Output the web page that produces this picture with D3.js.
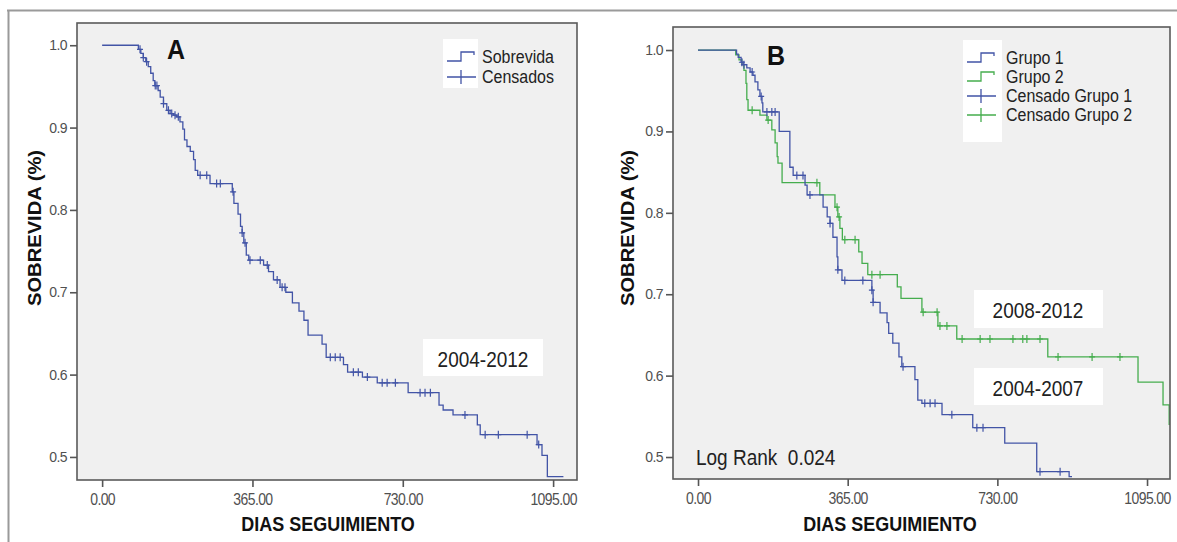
<!DOCTYPE html>
<head>
  <meta charset="utf-8">
  <title>Sobrevida</title>
  <script src="https://d3js.org/d3.v7.min.js"></script>
  <style>
    body { margin: 0; background: #fff; }
    svg { display: block; font-family: "Liberation Sans", Arial, sans-serif; }
    .plot-bg { fill: #f0f0f0; }
    .plot-frame { fill: none; stroke: #5a5a5a; stroke-width: 1.6px; }
    .tick line { stroke: #555; stroke-width: 1.6px; }
    .tick text { fill: #505050; font-size: 14px; letter-spacing: -0.6px; }
    .axis-title { font-weight: bold; font-size: 18px; fill: #111; }
    .panel-tag { font-weight: bold; font-size: 25px; fill: #111; }
    .legend-text { font-size: 16px; fill: #222; }
    .note { font-size: 19px; fill: #222; white-space: pre; }
    .curve { fill: none; stroke-width: 1.3px; }
    .censor { fill: none; stroke-width: 1.2px; }
  </style>
</head>

<body>
  <script>
    var width = 1177, height = 542;

    // axis values
    var dayTicks = [0, 365, 730, 1095];
    var survTicks = [0.5, 0.6, 0.7, 0.8, 0.9, 1.0];

    // Panel A: whole cohort 2004-2012  [days, survival]
    var stepsA = [[0,1.0],[88,.995],[94,.99],[100,.985],[106,.98],[112,.974],[118,.966],[124,.957],[128,.951],
      [136,.945],[141,.937],[149,.929],[157,.921],[165,.917],[173,.915],[181,.913],[189,.907],[196,.898],
      [200,.885],[206,.877],[214,.871],[222,.861],[226,.848],[232,.842],[262,.832],[316,.822],[320,.808],
      [330,.795],[336,.78],[340,.772],[344,.76],[350,.745],[356,.739],[392,.733],[404,.725],[416,.715],
      [432,.706],[446,.7],[462,.687],[478,.677],[490,.666],[500,.648],[534,.637],[544,.621],[586,.612],
      [596,.603],[632,.597],[668,.59],[743,.578],[818,.563],[828,.557],[852,.551],[911,.539],[918,.527],
      [1056,.515],[1068,.502],[1081,.476],[1120,.476]];
    var censorA = [[92,.995],[100,.985],[108,.98],[129,.951],[133,.951],[149,.929],[161,.921],[169,.917],
      [177,.915],[185,.913],[238,.842],[254,.842],[278,.832],[287,.832],[318,.822],[340,.772],[347,.76],
      [359,.739],[384,.739],[401,.733],[425,.715],[437,.706],[444,.706],[554,.621],[566,.621],[578,.621],
      [610,.603],[622,.603],[644,.597],[680,.59],[692,.59],[712,.59],[772,.578],[784,.578],[797,.578],
      [881,.551],[930,.527],[962,.527],[1032,.527],[1060,.515]];

    // Panel B: Grupo 1 (2004-2007) and Grupo 2 (2008-2012)
    var stepsG1 = [[0,1.0],[94,.995],[98,.991],[105,.985],[110,.982],[119,.978],[127,.973],[134,.969],
      [139,.961],[146,.951],[151,.943],[156,.935],[158,.924],[198,.9],[224,.856],[232,.846],[261,.834],
      [266,.822],[305,.807],[315,.795],[322,.787],[329,.77],[339,.746],[341,.73],[351,.717],[424,.705],
      [427,.69],[444,.677],[461,.665],[465,.652],[475,.64],[490,.623],[497,.611],[529,.595],[536,.57],
      [546,.566],[595,.552],[670,.536],[748,.517],[826,.482],[905,.476],[912,.476]];
    var censorG1 = [[107,.985],[112,.982],[132,.973],[154,.943],[168,.924],[180,.924],[188,.924],
      [241,.846],[256,.846],[273,.822],[322,.787],[341,.73],[358,.717],[402,.717],[424,.705],[427,.69],
      [500,.611],[553,.566],[566,.566],[578,.566],[619,.552],[680,.536],[695,.536],[834,.482],[883,.482]];

    var stepsG2 = [[0,1.0],[92,.994],[100,.988],[107,.982],[112,.975],[117,.959],[119,.939],[122,.926],
      [151,.92],[168,.914],[180,.902],[188,.886],[193,.869],[195,.861],[205,.837],[297,.822],[334,.807],
      [341,.795],[346,.781],[352,.767],[392,.752],[400,.738],[414,.724],[486,.709],[495,.695],[546,.678],
      [585,.661],[631,.645],[853,.623],[1073,.592],[1134,.564],[1149,.54],[1170,.54]];
    var censorG2 = [[132,.926],[171,.914],[290,.837],[339,.807],[344,.795],[358,.767],[383,.767],
      [424,.724],[444,.724],[549,.678],[583,.678],[590,.661],[607,.661],[644,.645],[688,.645],[712,.645],
      [768,.645],[792,.645],[802,.645],[834,.645],[878,.623],[961,.623],[1029,.623]];

    var legendA = ["Sobrevida", "Censados"];
    var legendB = ["Grupo 1", "Grupo 2", "Censado Grupo 1", "Censado Grupo 2"];

    var blue = "#4254a6", green = "#45ad4e";

    var svg = d3.select("body").append("svg")
      .attr("width", width)
      .attr("height", height);

    // outer frame of the figure
    svg.append("path")
      .attr("d", "M7,10.5H1177M8.5,10V542")
      .attr("fill", "none")
      .attr("stroke", "#9a9a9a")
      .attr("stroke-width", 2);

    var sy = 1.12;   // the picture is slightly stretched vertically

    function label(g, x, y, s, cls, anchor) {
      return g.append("text")
        .attr("class", cls)
        .attr("text-anchor", anchor || "start")
        .attr("transform", "translate(" + x + "," + y + ") scale(1," + sy + ")")
        .text(s);
    }

    function drawPanel(p) {
      var x = d3.scaleLinear().domain(p.xDomain).range([p.left, p.right]);
      var y = d3.scaleLinear().domain(p.yDomain).range([p.bottom, p.top]);
      var g = svg.append("g");

      g.append("rect")
        .attr("class", "plot-bg")
        .attr("x", p.left).attr("y", p.top)
        .attr("width", p.right - p.left).attr("height", p.bottom - p.top);

      g.append("clipPath").attr("id", "clip" + p.id)
        .append("rect")
        .attr("x", p.left).attr("y", p.top)
        .attr("width", p.right - p.left).attr("height", p.bottom - p.top);

      var inner = g.append("g").attr("clip-path", "url(#clip" + p.id + ")");

      var line = d3.line()
        .x(d => x(d[0]))
        .y(d => y(d[1]))
        .curve(d3.curveStepAfter);

      p.series.forEach(function(s) {
        inner.append("path")
          .attr("class", "curve")
          .attr("stroke", s.color)
          .attr("d", line(s.steps));
        inner.append("g").selectAll("path")
          .data(s.censor)
          .enter().append("path")
            .attr("class", "censor")
            .attr("stroke", s.color)
            .attr("d", d => "M" + (x(d[0]) - 3) + "," + y(d[1]) + "h6M" + x(d[0]) + "," + (y(d[1]) - 4) + "v8");
      });

      g.append("rect")
        .attr("class", "plot-frame")
        .attr("x", p.left).attr("y", p.top)
        .attr("width", p.right - p.left).attr("height", p.bottom - p.top);

      var xAxis = g.append("g")
        .attr("transform", "translate(0," + p.bottom + ")")
        .call(d3.axisBottom(x).tickValues(dayTicks).tickSize(7).tickPadding(5).tickFormat(d3.format(".2f")));
      xAxis.select(".domain").remove();
      xAxis.selectAll(".tick text")
        .attr("transform", "scale(1," + sy + ")");

      var yAxis = g.append("g")
        .attr("transform", "translate(" + p.left + ",0)")
        .call(d3.axisLeft(y).tickValues(survTicks).tickSize(7).tickPadding(3).tickFormat(d3.format(".1f")));
      yAxis.select(".domain").remove();

      label(g, p.xTitleX, 531, "DIAS SEGUIMIENTO", "axis-title", "middle");

      g.append("text")
        .attr("class", "axis-title")
        .attr("text-anchor", "middle")
        .attr("transform", "translate(" + p.yTitleX + "," + p.yTitleY + ") scale(1," + sy + ") rotate(-90)")
        .text("SOBREVIDA (%)");

      label(g, p.tagX, p.tagY, p.tag, "panel-tag");

      // legend
      var lg = g.append("g");
      lg.append("rect")
        .attr("x", p.legend.x).attr("y", p.legend.y)
        .attr("width", p.legend.w).attr("height", p.legend.h)
        .attr("fill", "#fff");
      p.legend.items.forEach(function(it, i) {
        var ly = p.legend.y0 + i * p.legend.dy;
        var lx = p.legend.x + 4;
        if (it.kind == "step") {
          lg.append("path")
            .attr("d", "M" + lx + "," + (ly + 4) + "h14v-9h13v3")
            .attr("fill", "none").attr("stroke", it.color).attr("stroke-width", 1.3);
        } else {
          lg.append("path")
            .attr("d", "M" + lx + "," + ly + "h29M" + (lx + 14) + "," + (ly - 7) + "v14")
            .attr("fill", "none").attr("stroke", it.color).attr("stroke-width", 1.3);
        }
        label(lg, p.legend.x + p.legend.w + 4, ly + 6, it.text, "legend-text");
      });

      p.notes.forEach(function(n) {
        if (n.box) {
          g.append("rect")
            .attr("x", n.box[0]).attr("y", n.box[1])
            .attr("width", n.box[2]).attr("height", n.box[3])
            .attr("fill", "#fff");
        }
        label(g, n.x, n.y, n.text, "note", n.anchor);
      });
    }

    drawPanel({
      id: "A", tag: "A", tagX: 167, tagY: 59,
      left: 77, right: 577, top: 23, bottom: 480,
      xDomain: [-61, 1153], yDomain: [0.472, 1.027],
      xTitleX: 328, yTitleX: 41, yTitleY: 228,
      series: [{ steps: stepsA, censor: censorA, color: blue }],
      legend: { x: 443, y: 39, w: 35, h: 49, y0: 57, dy: 20,
        items: [{ kind: "step", color: blue, text: legendA[0] },
                { kind: "cross", color: blue, text: legendA[1] }] },
      notes: [{ text: "2004-2012", x: 483, y: 367, anchor: "middle", box: [423, 339, 120, 37] }]
    });

    drawPanel({
      id: "B", tag: "B", tagX: 767, tagY: 65,
      left: 673, right: 1170, top: 27, bottom: 479,
      xDomain: [-61, 1151], yDomain: [0.473, 1.0283],
      xTitleX: 890, yTitleX: 634, yTitleY: 228,
      series: [{ steps: stepsG2, censor: censorG2, color: green },
               { steps: stepsG1, censor: censorG1, color: blue }],
      legend: { x: 963, y: 40, w: 39, h: 102, y0: 58, dy: 19,
        items: [{ kind: "step", color: blue, text: legendB[0] },
                { kind: "step", color: green, text: legendB[1] },
                { kind: "cross", color: blue, text: legendB[2] },
                { kind: "cross", color: green, text: legendB[3] }] },
      notes: [{ text: "2008-2012", x: 1038, y: 318, anchor: "middle", box: [974, 290, 129, 38] },
              { text: "2004-2007", x: 1038, y: 396, anchor: "middle", box: [974, 368, 129, 37] },
              { text: "Log Rank  0.024", x: 696, y: 465 }]
    });
  </script>
</body>
